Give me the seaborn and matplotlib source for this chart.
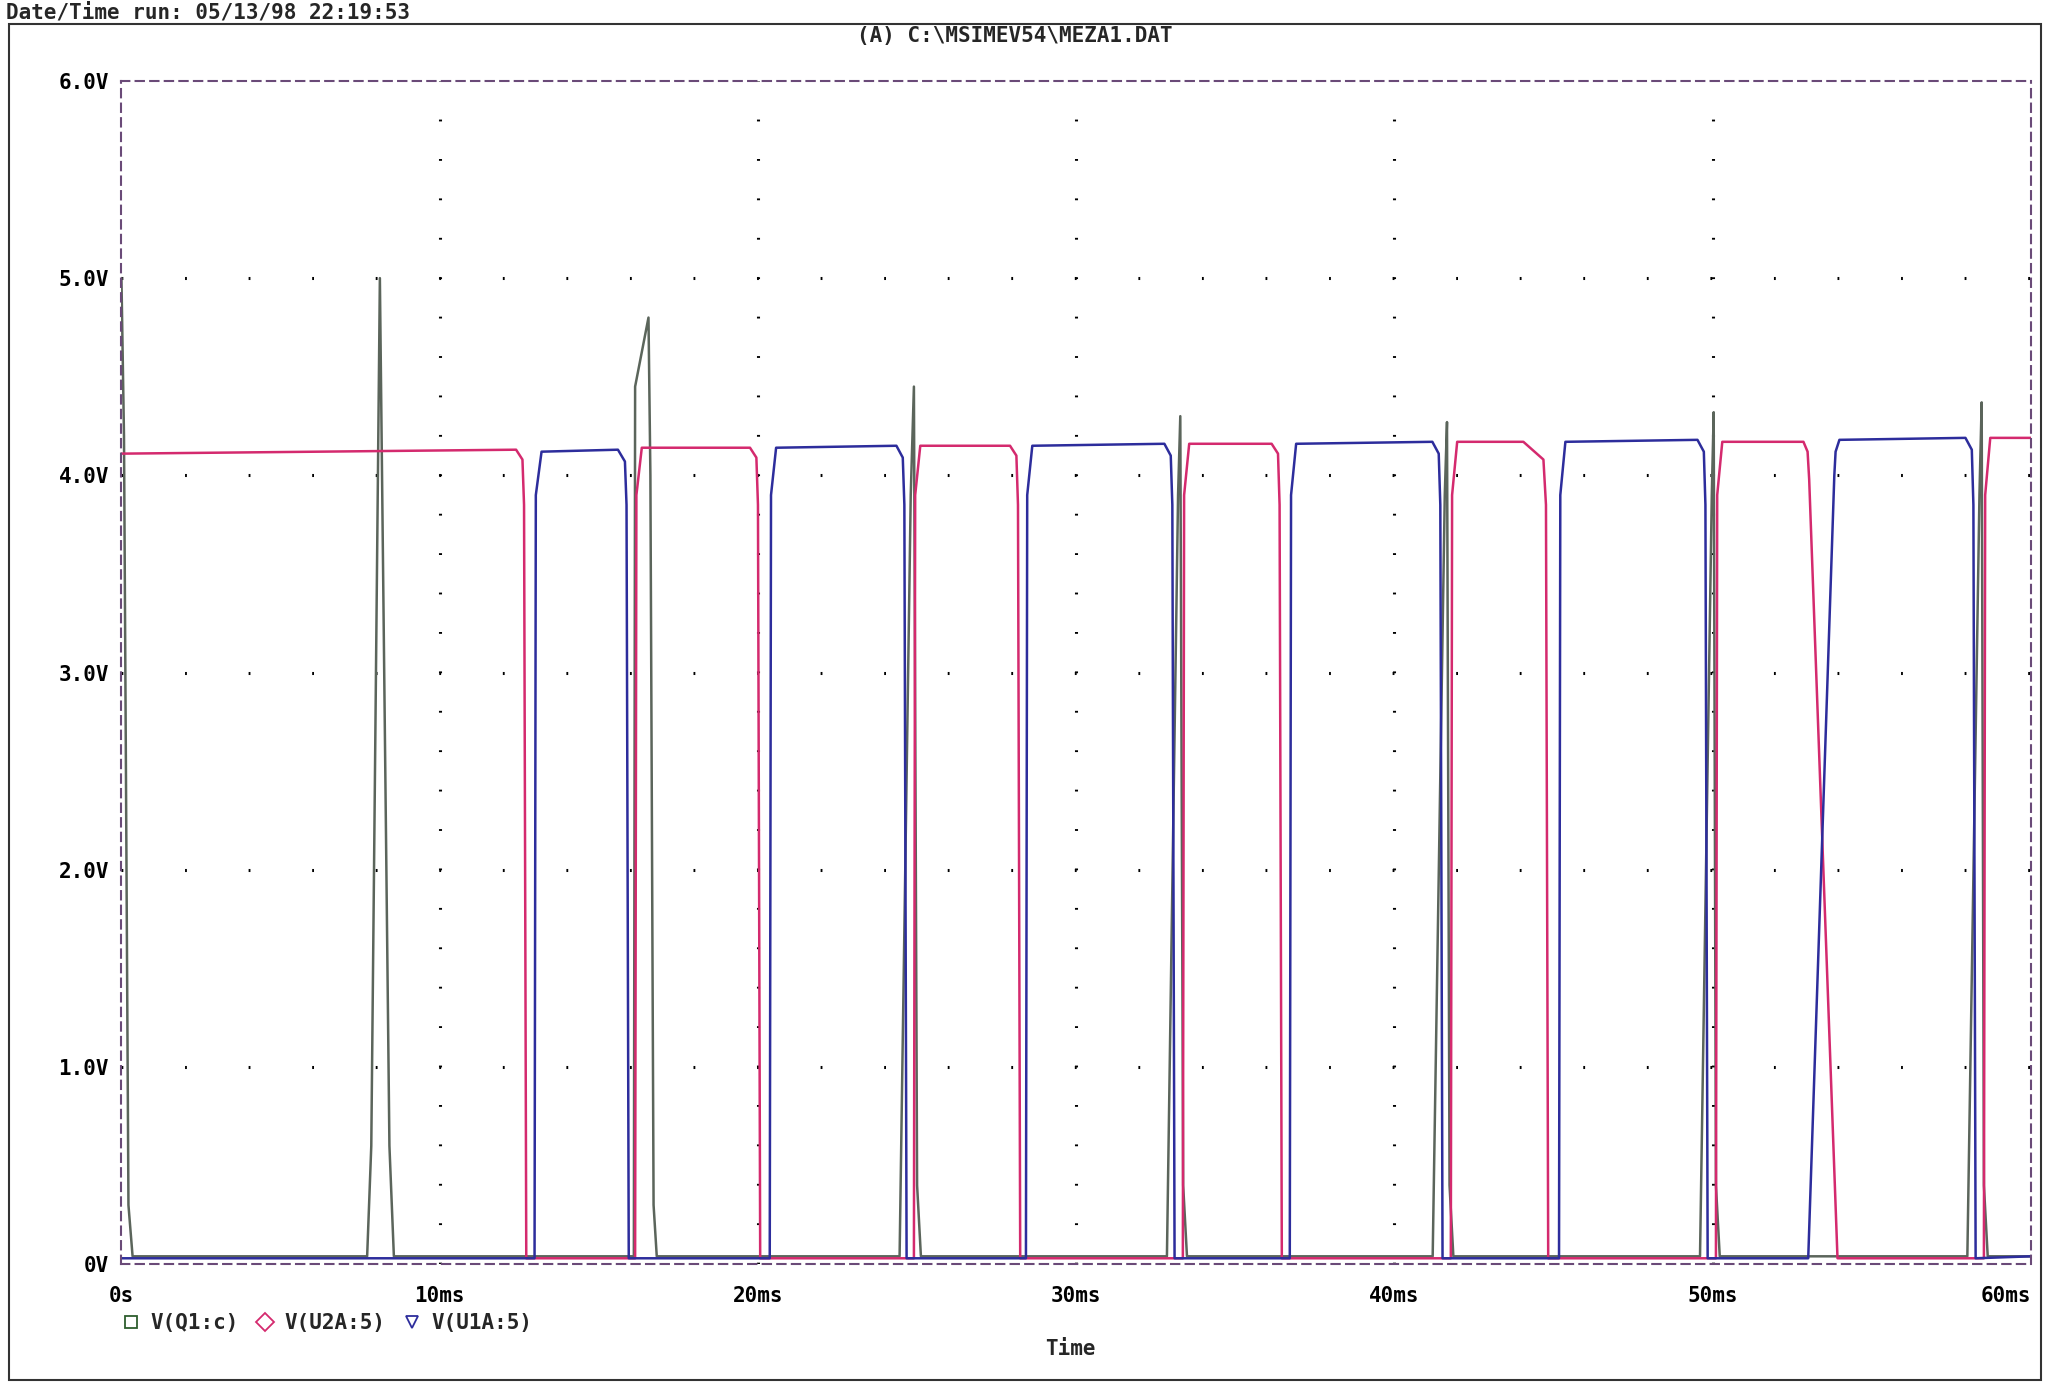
import pandas as pd
import numpy as np
import matplotlib
matplotlib.use("Agg")
import matplotlib.pyplot as plt
from matplotlib.lines import Line2D
from matplotlib.patches import Rectangle
import seaborn as sns

# points de rupture (temps en ms, tension en V)
q1_t = [0.0, 0.08, 0.22, 0.35,
        7.72, 7.85, 8.12, 8.42, 8.56,
        16.1, 16.14, 16.56, 16.62, 16.72, 16.82,
        24.45, 24.8, 24.9, 25.0, 25.12,
        32.85, 33.2, 33.27, 33.36, 33.48,
        41.2, 41.58, 41.65, 41.73, 41.85,
        49.6, 49.97, 50.03, 50.1, 50.22,
        58.0, 58.38, 58.45, 58.52, 58.64, 60.0]
q1_v = [5.0, 4.2, 0.3, 0.04,
        0.04, 0.6, 5.0, 0.6, 0.04,
        0.04, 4.45, 4.8, 4.0, 0.3, 0.04,
        0.04, 3.9, 4.45, 0.4, 0.04,
        0.04, 3.9, 4.3, 0.4, 0.04,
        0.04, 3.9, 4.27, 0.4, 0.04,
        0.04, 3.9, 4.32, 0.4, 0.04,
        0.04, 3.9, 4.37, 0.4, 0.04, 0.04]

u2a_t = [0.0, 12.4, 12.6, 12.65, 12.72,
         16.14, 16.18, 16.35, 19.75, 19.95, 20.0, 20.07,
         24.9, 24.94, 25.1, 27.92, 28.12, 28.17, 28.24,
         33.35, 33.39, 33.55, 36.14, 36.34, 36.39, 36.46,
         41.77, 41.81, 41.97, 44.05, 44.68, 44.76, 44.83,
         50.1, 50.14, 50.3, 52.85, 52.98, 53.03, 53.92,
         58.52, 58.56, 58.72, 60.0]
u2a_v = [4.11, 4.13, 4.08, 3.85, 0.03,
         0.03, 3.9, 4.14, 4.14, 4.09, 3.85, 0.03,
         0.03, 3.9, 4.15, 4.15, 4.10, 3.85, 0.03,
         0.03, 3.9, 4.16, 4.16, 4.11, 3.85, 0.03,
         0.03, 3.9, 4.17, 4.17, 4.08, 3.85, 0.03,
         0.03, 3.9, 4.17, 4.17, 4.12, 3.98, 0.03,
         0.03, 3.9, 4.19, 4.19]

u1a_t = [0.0, 12.98, 13.02, 13.2, 15.6, 15.82, 15.87, 15.94,
         20.37, 20.41, 20.57, 24.35, 24.55, 24.6, 24.67,
         28.42, 28.46, 28.62, 32.77, 32.97, 33.02, 33.09,
         36.71, 36.75, 36.91, 41.19, 41.39, 41.44, 41.51,
         45.17, 45.21, 45.37, 49.52, 49.72, 49.77, 49.84,
         53.0, 53.82, 53.86, 53.98, 57.94, 58.14, 58.19, 58.26, 60.0]
u1a_v = [0.03, 0.03, 3.9, 4.12, 4.13, 4.07, 3.85, 0.03,
         0.03, 3.9, 4.14, 4.15, 4.09, 3.85, 0.03,
         0.03, 3.9, 4.15, 4.16, 4.10, 3.85, 0.03,
         0.03, 3.9, 4.16, 4.17, 4.11, 3.85, 0.03,
         0.03, 3.9, 4.17, 4.18, 4.12, 3.85, 0.03,
         0.03, 4.0, 4.12, 4.18, 4.19, 4.13, 3.85, 0.03, 0.04]

noms = ["V(Q1:c)", "V(U2A:5)", "V(U1A:5)"]
couleurs = ["#5b655b", "#d42a6e", "#2d2d9c"]
couleurs_legende = ["#2e5e2e", "#d42a6e", "#2d2d9c"]
marqueurs = ["s", "D", "v"]
yticks = [0, 1, 2, 3, 4, 5, 6]
ylabels = ["0V", "1.0V", "2.0V", "3.0V", "4.0V", "5.0V", "6.0V"]
xticks = [0, 10, 20, 30, 40, 50, 60]
xlabels = ["0s", "10ms", "20ms", "30ms", "40ms", "50ms", "60ms"]

df = pd.concat([
    pd.DataFrame({"t": q1_t, "v": q1_v, "trace": noms[0]}),
    pd.DataFrame({"t": u2a_t, "v": u2a_v, "trace": noms[1]}),
    pd.DataFrame({"t": u1a_t, "v": u1a_v, "trace": noms[2]}),
], ignore_index=True)

sns.set_style("white")
plt.rcParams['font.family'] = ['DejaVu Sans Mono', 'DejaVu Sans']
plt.rcParams['font.weight'] = 'bold'

cadre = "#6a4a78"
fig = plt.figure(figsize=(20.48, 13.83), dpi=100)
ax = fig.add_axes([0.0593, 0.0859, 0.9324, 0.8556])

sns.lineplot(data=df, x="t", y="v", hue="trace", hue_order=noms, palette=couleurs,
             sort=False, estimator=None, legend=False, linewidth=1.8, ax=ax)

ax.set_xlim(0, 60)
ax.set_ylim(0, 6)
ax.set_xticks(xticks, xlabels)
ax.set_yticks(yticks, ylabels)
ax.tick_params(axis='both', direction='out', length=6, width=1.2, color=cadre,
               labelsize=15, labelcolor='black')
ax.tick_params(axis='x', pad=10)
ax.tick_params(axis='y', pad=3)
ax.get_xticklabels()[-1].set_horizontalalignment('right')
for s in ax.spines.values():
    s.set_linestyle((0, (4, 3)))
    s.set_color(cadre)
    s.set_linewidth(1.5)

# grille en pointilles facon PSpice
ax.grid(axis='y', color='black', linewidth=2.2, linestyle=(0, (0.6, 20.2)))
ax.grid(axis='x', color='black', linewidth=2.2, linestyle=(0, (0.6, 12.3)))
gx = ax.get_xgridlines()
gy = ax.get_ygridlines()
for gl in [gx[0], gx[-1], gy[0], gy[-1]]:
    gl.set_visible(False)

ax.set_xlabel("Time", fontsize=15, fontweight='bold')
ax.xaxis.set_label_coords(0.497, -0.063)
ax.set_ylabel("")

fig.text(0.003, 0.998, "Date/Time run: 05/13/98 22:19:53", ha='left', va='top',
         fontsize=15, fontweight='bold')
fig.text(0.4957, 0.974, r"(A) C:\MSIMEV54\MEZA1.DAT", ha='center', va='center',
         fontsize=15, fontweight='bold')

poignees = [Line2D([], [], linestyle='none', marker=m, markersize=9, markerfacecolor='none',
                   markeredgecolor=c, markeredgewidth=1.3)
            for m, c in zip(marqueurs, couleurs_legende)]
fig.legend(poignees, noms, loc='center left', bbox_to_anchor=(0.059, 0.0434), ncol=3,
           frameon=False, prop={'size': 15, 'weight': 'bold'}, handlelength=1,
           handletextpad=0.4, columnspacing=0.8, borderaxespad=0, borderpad=0)

fig.add_artist(Rectangle((0.0045, 0.002), 0.9923, 0.981, transform=fig.transFigure,
                         fill=False, edgecolor='#333333', linewidth=1.5))

fig.savefig("out.png", dpi=100)
